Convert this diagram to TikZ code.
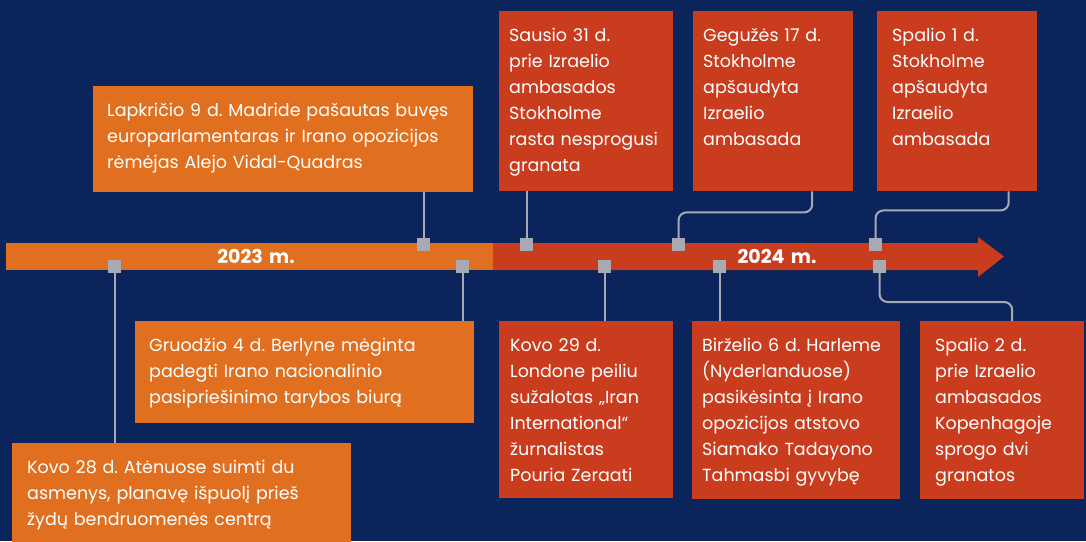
\documentclass[tikz,border=0pt]{standalone}
\usepackage{fontspec}
\setmainfont{Poppins}
\frenchspacing
\definecolor{navy}{HTML}{0B255C}
\definecolor{evorange}{HTML}{E0701F}
\definecolor{evred}{HTML}{C93D1E}
\definecolor{pin}{HTML}{A8A9B2}
\begin{document}
\begin{tikzpicture}[x=1pt,y=-1pt,
  ev/.style={anchor=north west, align=left, text=white, inner ysep=18pt, text height=12pt,
    font=\fontsize{17.5}{26}\selectfont},
  pinbox/.style={rectangle, fill=pin, minimum size=13pt, inner sep=0pt},
  conn/.style={draw=pin, line width=2pt, rounded corners=8pt},
  yr/.style={text=white, font=\bfseries\fontsize{19}{22}\selectfont}]
\fill[navy] (0,0) rectangle (1086,541);
\useasboundingbox (0,0) rectangle (1086,541);
% timeline
\fill[evorange] (6,243) rectangle (493,270);
\fill[evred] (493,243) -- (978,243) -- (978,237) -- (1004,256.5) -- (978,277) -- (978,270) -- (493,270) -- cycle;
\node[yr] (y23) at (256,256.5) {2023\,\,m.};
\node[yr] (y24) at (777,256.5) {2024\,\,m.};
% events above
\node[ev, fill=evorange, inner xsep=14pt, text width=352pt, text depth=58pt] (ev1) at (93,86) {Lapkričio 9 d. Madride pašautas buvęs\\europarlamentaras ir Irano opozicijos\\rėmėjas Alejo Vidal-Quadras};
\node[ev, fill=evred, inner xsep=10pt, text width=154pt, text depth=132pt] (ev2) at (499,11) {Sausio 31 d.\\prie Izraelio\\ambasados\\Stokholme\\rasta nesprogusi\\granata};
\node[ev, fill=evred, inner xsep=10pt, text width=140pt, text depth=132pt] (ev3) at (693,11) {Gegužės 17 d.\\Stokholme\\apšaudyta\\Izraelio\\ambasada};
\node[ev, fill=evred, inner xsep=15pt, text width=130pt, text depth=132pt] (ev4) at (877,11) {Spalio 1 d.\\Stokholme\\apšaudyta\\Izraelio\\ambasada};
% events below
\node[ev, fill=evorange, inner xsep=15pt, text width=309pt, text depth=62pt] (ev5) at (12,443) {Kovo 28 d. Atėnuose suimti du\\asmenys, planavę išpuolį prieš\\žydų bendruomenės centrą};
\node[ev, fill=evorange, inner xsep=14pt, text width=311pt, text depth=54pt] (ev6) at (135,321) {Gruodžio 4 d. Berlyne mėginta\\padegti Irano nacionalinio\\pasipriešinimo tarybos biurą};
\node[ev, fill=evred, inner xsep=11pt, text width=152pt, text depth=129pt] (ev7) at (499,321) {Kovo 29 d.\\Londone peiliu\\sužalotas „Iran\\International“\\žurnalistas\\Pouria Zeraati};
\node[ev, fill=evred, inner xsep=10pt, text width=188pt, text depth=130pt] (ev8) at (692,321) {Birželio 6 d. Harleme\\(Nyderlanduose)\\pasikėsinta į Irano\\opozicijos atstovo\\Siamako Tadayono\\Tahmasbi gyvybę};
\node[ev, fill=evred, inner xsep=15pt, text width=134pt, text depth=130pt] (ev9) at (920,321) {Spalio 2 d.\\prie Izraelio\\ambasados\\Kopenhagoje\\sprogo dvi\\granatos};
% pins on the line
\node[pinbox] (mk1) at (423.5,244.5) {};
\node[pinbox] (mk2) at (526.5,244.5) {};
\node[pinbox] (mk3) at (678.5,244.5) {};
\node[pinbox] (mk4) at (875.5,244.5) {};
\node[pinbox] (mk5) at (114.5,266.5) {};
\node[pinbox] (mk6) at (462.5,266.5) {};
\node[pinbox] (mk7) at (604.5,266.5) {};
\node[pinbox] (mk8) at (719.5,266.5) {};
\node[pinbox] (mk9) at (879.5,266.5) {};
\draw[conn] (ev1.south -| mk1) -- (mk1);
\draw[conn] (ev2.south -| mk2) -- (mk2);
\draw[conn] ([xshift=39pt]ev3.south) -- ++(0,21) -| (mk3);
\draw[conn] ([xshift=51.5pt]ev4.south) -- ++(0,19) -| (mk4);
\draw[conn] (mk5) -- (mk5 |- ev5.north);
\draw[conn] (mk6) -- (mk6 |- ev6.north);
\draw[conn] (mk7) -- (mk7 |- ev7.north);
\draw[conn] (mk8) -- (mk8 |- ev8.north);
\draw[conn] (mk9) |- ([xshift=10pt,yshift=19pt]ev9.north) -- ([xshift=10pt]ev9.north);
\end{tikzpicture}
\end{document}
